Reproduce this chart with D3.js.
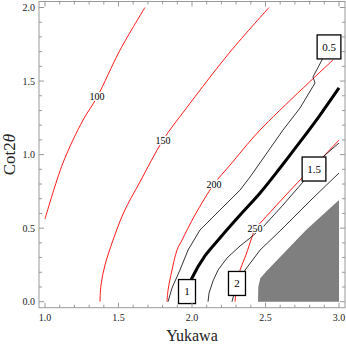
<!DOCTYPE html>
<html lang="en">
<head>
<meta charset="UTF-8">
<title>Yukawa vs Cot2θ contours</title>
<style>
  body { margin: 0; background: #fff; }
  text { font-family: "Liberation Serif", "Times New Roman", serif; }
  .frame { fill: none; stroke: #999; stroke-width: 1; }
  .tick { stroke: #999; stroke-width: 1; }
</style>
</head>
<body>
<script src="https://d3js.org/d3.v7.min.js"></script>
<script>
const xTicks = [1.0, 1.5, 2.0, 2.5, 3.0];
const yTicks = [0.0, 0.5, 1.0, 1.5, 2.0];

// red contours
const red100 = [[1.68,2.0],[1.51,1.71],[1.354,1.39],[1.259,1.235],[1.122,0.943],[1.0,0.562]];
const red150 = [[2.524,2.0],[2.259,1.698],[1.952,1.303],[1.803,1.099],[1.646,0.814],[1.537,0.61],[1.463,0.419],[1.408,0.249],[1.381,0.114],[1.374,0.0]];
const red200 = [[2.959,1.643],[2.463,1.167],[2.259,0.929],[2.15,0.8],[2.02,0.589],[1.932,0.419],[1.898,0.351],[1.864,0.215],[1.837,0.079],[1.83,0.0]];
const red250 = [[3.0,1.099],[2.891,0.984],[2.748,0.841],[2.483,0.555],[2.429,0.494],[2.408,0.44],[2.367,0.317],[2.327,0.215],[2.306,0.114],[2.293,0.0]];
const redLabels = [
  {text: "100", x: 1.354, y: 1.395},
  {text: "150", x: 1.803, y: 1.097},
  {text: "200", x: 2.15, y: 0.8},
  {text: "250", x: 2.429, y: 0.498}
];

// black contours
const blk05 = [[2.932,1.732],[2.884,1.643],[2.823,1.528],[2.837,1.487],[2.735,1.317],[2.619,1.167],[2.395,0.848],[2.327,0.759],[2.19,0.623],[2.054,0.487],[1.973,0.351],[1.918,0.215],[1.864,0.093],[1.837,0.0]];
const blk1 = [[3.0,1.453],[2.871,1.269],[2.735,1.086],[2.599,0.909],[2.463,0.739],[2.327,0.589],[2.19,0.433],[2.088,0.311],[2.0,0.161],[1.966,0.072]];
const blk15 = [[3.0,1.079],[2.905,0.997],[2.83,0.902],[2.755,0.814],[2.619,0.657],[2.483,0.508],[2.395,0.433],[2.327,0.379],[2.238,0.297],[2.177,0.215],[2.143,0.141],[2.116,0.059],[2.109,0.0]];
const blk2 = [[3.0,0.875],[2.803,0.685],[2.605,0.487],[2.463,0.351],[2.361,0.215],[2.306,0.127],[2.272,0.0]];
const boxLabels = [
  {text: "0.5", x: 2.932, y: 1.732},
  {text: "1", x: 1.966, y: 0.069},
  {text: "1.5", x: 2.83, y: 0.902},
  {text: "2", x: 2.306, y: 0.124}
];

// excluded region
const greyRegion = [[2.449,0.0],[2.451,0.102],[2.465,0.16],[2.503,0.204],[2.776,0.487],[3.0,0.691],[3.0,0.0]];

const W = 346, H = 346, pad = 6;
const x = d3.scaleLinear().domain([1, 3]).range([45, 339]);
const y = d3.scaleLinear().domain([0, 2]).range([301.7, 7.5]);
const fx0 = x(1) - pad, fx1 = x(3) + pad, fy0 = y(2) - pad, fy1 = y(0) + pad;

const svg = d3.select("body").append("svg")
  .attr("width", W).attr("height", H);

svg.append("path")
  .datum(greyRegion)
  .attr("d", d3.line().x(d => x(d[0])).y(d => y(d[1])))
  .attr("fill", "#7f7f7f");

const smooth = d3.line().x(d => x(d[0])).y(d => y(d[1])).curve(d3.curveCatmullRom);
const straight = d3.line().x(d => x(d[0])).y(d => y(d[1]));

[red100, red150, red200, red250].forEach(c => {
  svg.append("path").datum(c).attr("d", smooth)
    .attr("fill", "none").attr("stroke", "#ff1a1a").attr("stroke-width", 1);
});
[blk05, blk15, blk2].forEach(c => {
  svg.append("path").datum(c).attr("d", straight)
    .attr("fill", "none").attr("stroke", "#000").attr("stroke-width", 0.8);
});
svg.append("path").datum(blk1).attr("d", smooth)
  .attr("fill", "none").attr("stroke", "#000").attr("stroke-width", 3);

// red labels on white background
redLabels.forEach(l => {
  const g = svg.append("g").attr("transform", `translate(${x(l.x)},${y(l.y)})`);
  const bg = g.append("rect").attr("fill", "#fff");
  const t = g.append("text").text(l.text)
    .attr("text-anchor", "middle").attr("dy", "0.35em")
    .attr("font-size", 10).attr("fill", "#000");
  const b = t.node().getBBox();
  bg.attr("x", b.x - 1).attr("y", b.y + 1).attr("width", b.width + 2).attr("height", b.height - 2);
});

// framed labels
boxLabels.forEach(l => {
  const g = svg.append("g").attr("transform", `translate(${x(l.x)},${y(l.y)})`);
  const bg = g.append("rect").attr("fill", "#fff").attr("stroke", "#000").attr("stroke-width", 1.3);
  const t = g.append("text").text(l.text)
    .attr("text-anchor", "middle").attr("dy", "0.35em")
    .attr("font-size", 11).attr("fill", "#000");
  const w = Math.max(17, t.node().getComputedTextLength() + 10);
  bg.attr("x", -w / 2).attr("y", -12).attr("width", w).attr("height", 24);
});

// frame and ticks
svg.append("rect").attr("class", "frame")
  .attr("x", fx0).attr("y", fy0).attr("width", fx1 - fx0).attr("height", fy1 - fy0);

const ticks = svg.append("g");
d3.range(10, 31).map(v => v / 10).forEach(v => {
  const major = xTicks.some(t => Math.abs(t - v) < 1e-6);
  const len = major ? 5 : 3;
  ticks.append("line").attr("class", "tick")
    .attr("x1", x(v)).attr("x2", x(v)).attr("y1", fy1).attr("y2", fy1 - len);
  ticks.append("line").attr("class", "tick")
    .attr("x1", x(v)).attr("x2", x(v)).attr("y1", fy0).attr("y2", fy0 + len);
});
d3.range(0, 21).map(v => v / 10).forEach(v => {
  const major = yTicks.some(t => Math.abs(t - v) < 1e-6);
  const len = major ? 5 : 3;
  ticks.append("line").attr("class", "tick")
    .attr("y1", y(v)).attr("y2", y(v)).attr("x1", fx0).attr("x2", fx0 + len);
  ticks.append("line").attr("class", "tick")
    .attr("y1", y(v)).attr("y2", y(v)).attr("x1", fx1).attr("x2", fx1 - len);
});

svg.append("g").selectAll("text").data(xTicks).join("text")
  .attr("x", d => x(d)).attr("y", fy1 + 13)
  .attr("text-anchor", "middle").attr("font-size", 10).attr("fill", "#222")
  .text(d => d.toFixed(1));
svg.append("g").selectAll("text").data(yTicks).join("text")
  .attr("x", fx0 - 4).attr("y", d => y(d)).attr("dy", "0.35em")
  .attr("text-anchor", "end").attr("font-size", 10).attr("fill", "#222")
  .text(d => d.toFixed(1));

svg.append("text")
  .attr("x", (fx0 + fx1) / 2).attr("y", 341)
  .attr("text-anchor", "middle").attr("font-size", 16).attr("fill", "#222")
  .text("Yukawa");

const yl = svg.append("text")
  .attr("transform", `translate(15,${(fy0 + fy1) / 2}) rotate(-90)`)
  .attr("text-anchor", "middle").attr("font-size", 17).attr("fill", "#222");
yl.append("tspan").text("Cot2");
yl.append("tspan").attr("font-style", "italic").text("θ");
</script>
</body>
</html>
